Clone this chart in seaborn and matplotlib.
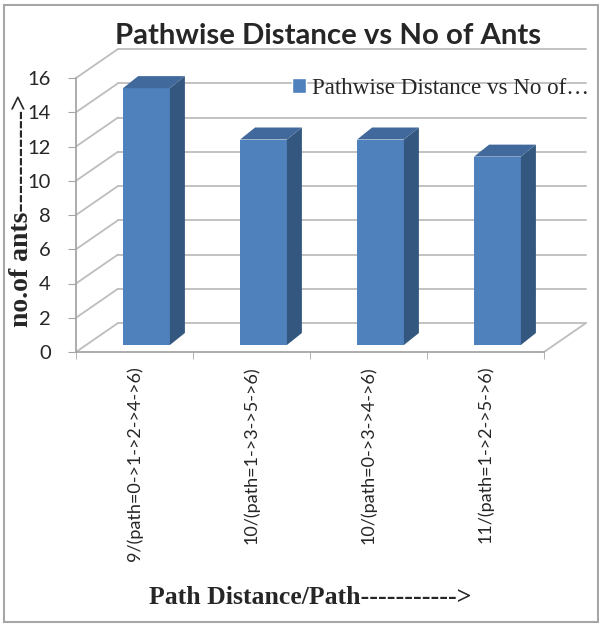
import numpy as np
import pandas as pd
import matplotlib
matplotlib.use('Agg')
import matplotlib.pyplot as plt
import matplotlib.transforms as mtransforms
from matplotlib.patches import Polygon, Patch, Rectangle
import seaborn as sns

# data
paths = ['9/(path=0->1->2->4->6)', '10/(path=1->3->5->6)',
         '10/(path=0->3->4->6)', '11/(path=1->2->5->6)']
ants = [15, 12, 12, 11]
y_ticks = list(range(0, 17, 2))
series_name = 'Pathwise Distance vs No of…'
title = 'Pathwise Distance vs No of Ants'
x_title = 'Path Distance/Path----------->'
y_title = 'no.of ants----------->'

sns.set_style('white')

front_col = '#4F81BD'
side_col = '#34577F'
top_col = '#41699B'
grid_col = '#BDBDBD'
axis_col = '#A6A6A6'

W, H = 599, 624
fig = plt.figure(figsize=(W / 100, H / 100), dpi=100)

# front plane of the fake 3D box (pixels)
x0, x1, y0, y1 = 76, 544, 352, 78
ax = fig.add_axes([x0 / W, 1 - y0 / H, (x1 - x0) / W, (y0 - y1) / H])

df = pd.DataFrame({'path': paths, 'ants': ants})
sns.barplot(data=df, x='path', y='ants', color=front_col, width=0.4,
            saturation=1, ax=ax, zorder=3)
ax.set_xlim(-0.5, len(paths) - 0.5)
ax.set_ylim(0, 16)

# pixel -> data units
ux = (len(paths)) / (x1 - x0)
uy = 16 / (y0 - y1)
wall_dx, wall_dy = 42 * ux, 29 * uy      # back wall offset
bar_dx, bar_dy = 15 * ux, 12 * uy        # bar depth

# walls / gridlines
for t in y_ticks:
    ax.plot([-0.5, -0.5 + wall_dx], [t, t + wall_dy], color=grid_col, lw=1.3,
            clip_on=False, zorder=0.5)
    ax.plot([-0.5 + wall_dx, len(paths) - 0.5 + wall_dx], [t + wall_dy] * 2,
            color=grid_col, lw=1.3, clip_on=False, zorder=0.5)
ax.plot([len(paths) - 0.5, len(paths) - 0.5 + wall_dx], [0, wall_dy],
        color=grid_col, lw=1.3, clip_on=False, zorder=0.5)

# shift bars into the box and add side/top faces
tr_bar = mtransforms.offset_copy(ax.transData, fig=fig, x=12, y=7, units='dots')
for p in list(ax.patches):
    xl, w, h = p.get_x(), p.get_width(), p.get_height()
    p.set_transform(tr_bar)
    p.set_clip_on(False)
    p.set_edgecolor('none')
    side = Polygon([(xl + w, 0), (xl + w + bar_dx, bar_dy),
                    (xl + w + bar_dx, h + bar_dy), (xl + w, h)],
                   closed=True, facecolor=side_col, edgecolor='none',
                   transform=tr_bar, clip_on=False, zorder=3)
    top = Polygon([(xl, h), (xl + bar_dx, h + bar_dy),
                   (xl + w + bar_dx, h + bar_dy), (xl + w, h)],
                  closed=True, facecolor=top_col, edgecolor='none',
                  transform=tr_bar, clip_on=False, zorder=3)
    ax.add_patch(side)
    ax.add_patch(top)

# axes styling
sns.despine(ax=ax, top=True, right=True)
for s in ['left', 'bottom']:
    ax.spines[s].set_color(axis_col)
    ax.spines[s].set_linewidth(1.3)

ax.set_yticks(y_ticks)
ax.set_yticklabels([str(t) for t in y_ticks], family='Lato', fontsize=14.5)
ax.tick_params(axis='y', left=True, length=6, color=axis_col, pad=12)

ax.set_xticks(range(len(paths)))
ax.set_xticklabels(paths, rotation=90, family='Lato', fontsize=13)
ax.set_xticks(np.arange(-0.5, len(paths)), minor=True)
ax.tick_params(axis='x', which='major', length=0, pad=10)
ax.tick_params(axis='x', which='minor', bottom=True, length=5, color=axis_col)
ax.set_xlabel('')
ax.set_ylabel('')

# texts
fig.text(328 / W, 1 - 36 / H, title, ha='center', va='center',
         family='Lato', weight='bold', fontsize=21.2)
fig.text(310 / W, 1 - 598 / H, x_title, ha='center', va='center',
         family='Liberation Serif', weight='bold', fontsize=18.5)
fig.text(22 / W, 1 - 211 / H, y_title, ha='center', va='center', rotation=90,
         family='Liberation Serif', weight='bold', fontsize=20)

ax.legend(handles=[Patch(facecolor=front_col, label=series_name)],
          loc='center left', bbox_to_anchor=(292 / W, 1 - 88 / H),
          bbox_transform=fig.transFigure, frameon=False,
          prop={'family': 'Liberation Serif', 'size': 16.6},
          handlelength=0.6, handleheight=0.6, handletextpad=0.25,
          borderaxespad=0, borderpad=0)

# outer frame
fig.patches.append(Rectangle((4 / W, 2 / H), 594 / W, 617 / H,
                             transform=fig.transFigure, fill=False,
                             edgecolor=axis_col, lw=1.5))

fig.savefig('out.png', dpi=100)
